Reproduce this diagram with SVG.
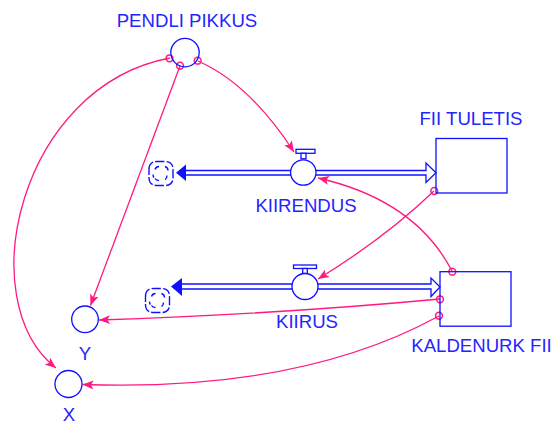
<svg xmlns="http://www.w3.org/2000/svg" width="553" height="426" viewBox="0 0 553 426">
  <style>
    .lbl { font-family: "Liberation Sans", Arial, sans-serif; font-size: 18.6px; fill: #2424ff; text-anchor: middle; }
    .blue { fill: none; stroke: #1010ff; stroke-width: 1.3; }
    .bluew { fill: #ffffff; stroke: #1010ff; stroke-width: 1.3; }
    .link { fill: none; stroke: #ff1a7f; stroke-width: 1.3; marker-end: url(#tip); }
    .dot { fill: none; stroke: #ff1a7f; stroke-width: 1.5; }
    .cloud { fill: none; stroke: #1010ff; stroke-width: 1.4; }
  </style>
  <defs>
    <marker id="tip" markerUnits="userSpaceOnUse" markerWidth="12" markerHeight="10" refX="11" refY="5" orient="auto">
      <path d="M0,0.5 L11,5 L0,9.5 L2.5,5 Z" fill="#ff1a7f"/>
    </marker>
    <g id="cloudShape">
      <path class="cloud" stroke-dasharray="9 2" d="M-12,-4 Q-12,-12 -4,-12 L4,-12 Q12,-12 12,-4 L12,4 Q12,12 4,12 L-4,12 Q-12,12 -12,4 Z"/>
      <path class="cloud" d="M-6,-4 q1,-3 4,-3 M4,-7 q3,1 3,4 M6,2 q0,3 -2,4 M-2,7 q-3,0 -4,-2 M-8,1 q0,2 1,3"/>
    </g>
  </defs>

  <!-- connectors -->
  <g id="connectors">
    <path class="link" d="M198,61 Q250,84 294,152"/>
    <path class="link" d="M180,66 L90.5,305.5"/>
    <path class="link" d="M170,58 C20,86 -30,300 56,368"/>
    <path class="link" d="M452,271 Q415,200 318,178"/>
    <path class="link" d="M434,191 Q385,238 318,279"/>
    <path class="link" d="M440,299 Q280,314 99,320"/>
    <path class="link" d="M439,316 Q300,392 82.5,384.5"/>
    <circle class="dot" cx="169.5" cy="58.3" r="3.4"/>
    <circle class="dot" cx="180" cy="65.7" r="3.4"/>
    <circle class="dot" cx="197.7" cy="60.7" r="3.4"/>
    <circle class="dot" cx="434.3" cy="191" r="3.4"/>
    <circle class="dot" cx="452.3" cy="271.7" r="3.4"/>
    <circle class="dot" cx="440" cy="299.3" r="3.4"/>
    <circle class="dot" cx="439" cy="315.7" r="3.4"/>
  </g>

  <!-- auxiliary: PENDLI PIKKUS -->
  <g id="pendli-pikkus">
    <circle class="blue" cx="185" cy="52.6" r="14.2"/>
    <text class="lbl" x="187" y="27">PENDLI PIKKUS</text>
  </g>

  <!-- stock: FII TULETIS -->
  <g id="fii-tuletis">
    <rect class="blue" x="436" y="138.5" width="71" height="54.5"/>
    <text class="lbl" x="471" y="125">FII TULETIS</text>
  </g>

  <!-- stock: KALDENURK FII -->
  <g id="kaldenurk-fii">
    <rect class="blue" x="440" y="271.7" width="71" height="54.5"/>
    <text class="lbl" x="481.5" y="352">KALDENURK FII</text>
  </g>

  <!-- flow: KIIRENDUS -->
  <g id="kiirendus">
    <use href="#cloudShape" x="161" y="173.5"/>
    <path class="blue" d="M186,170.5 L426,170.5 L426,163 L436,172.75 L426,182.5 L426,175 L186,175"/>
    <path d="M176,172.75 L186,164.5 L186,181 Z" fill="#1010ff"/>
    <rect class="bluew" x="296" y="149.3" width="19" height="4"/>
    <rect class="bluew" x="301" y="153.3" width="5" height="5.5"/>
    <circle class="bluew" cx="303.3" cy="172.5" r="12.7"/>
    <text class="lbl" x="306" y="211.5">KIIRENDUS</text>
  </g>

  <!-- flow: KIIRUS -->
  <g id="kiirus">
    <use href="#cloudShape" x="157.5" y="300.5"/>
    <path class="blue" d="M182,284 L431,284 L431,278 L440,287 L431,296.5 L431,289 L182,289"/>
    <path d="M171,286.5 L182,278 L182,296 Z" fill="#1010ff"/>
    <rect class="bluew" x="293.5" y="265" width="23" height="3.5"/>
    <rect class="bluew" x="302.7" y="268.5" width="4.6" height="5"/>
    <circle class="bluew" cx="305" cy="286.5" r="13"/>
    <text class="lbl" x="307" y="328">KIIRUS</text>
  </g>

  <!-- auxiliary: Y -->
  <g id="y">
    <circle class="blue" cx="85" cy="319.3" r="13.3"/>
    <text class="lbl" x="85" y="360">Y</text>
  </g>

  <!-- auxiliary: X -->
  <g id="x">
    <circle class="blue" cx="68.5" cy="384" r="13.5"/>
    <text class="lbl" x="69" y="421">X</text>
  </g>
</svg>
